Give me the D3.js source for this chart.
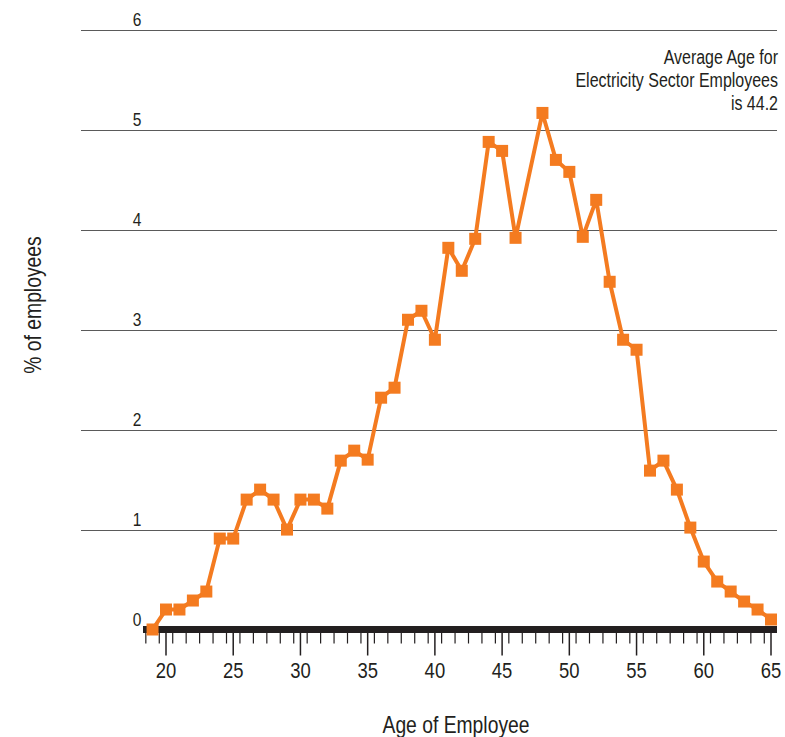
<!DOCTYPE html>
<html lang="en">
<head>
    <meta charset="UTF-8">
    <title>Age of Electricity Sector Employees</title>
    <script src="https://d3js.org/d3.v7.min.js"></script>
    <style>
        body {
            margin: 0;
            background: #fff;
        }
        svg text {
            font-family: "Liberation Sans", Arial, sans-serif;
            fill: #231f20;
        }
        .grid line {
            stroke: #5a5a5a;
            stroke-width: 1.2;
        }
    </style>
</head>
<body>
    <div id="chart"></div>

    <script>
        // ages and share of employees (%); age 47 has no marker
        const ages = [19, 20, 21, 22, 23, 24, 25, 26, 27, 28, 29, 30, 31, 32, 33, 34, 35,
            36, 37, 38, 39, 40, 41, 42, 43, 44, 45, 46, 48, 49, 50,
            51, 52, 53, 54, 55, 56, 57, 58, 59, 60, 61, 62, 63, 64, 65];
        const percents = [0.0, 0.20, 0.20, 0.29, 0.38, 0.91, 0.91, 1.30, 1.40, 1.30, 1.00, 1.30, 1.30, 1.21, 1.69, 1.79, 1.70,
            2.32, 2.42, 3.10, 3.19, 2.90, 3.82, 3.59, 3.91, 4.88, 4.79, 3.92, 5.17, 4.70, 4.58,
            3.93, 4.30, 3.48, 2.90, 2.80, 1.59, 1.69, 1.40, 1.02, 0.68, 0.48, 0.38, 0.28, 0.20, 0.10];
        const yTicks = [0, 1, 2, 3, 4, 5, 6];
        const xTicks = [20, 25, 30, 35, 40, 45, 50, 55, 60, 65];
        const minorTicks = d3.range(18.5, 65, 1);
        const note = ["Average Age for", "Electricity Sector Employees", "is 44.2"];

        const data = ages.map((a, i) => ({ age: a, value: percents[i] }));

        const width = 785, height = 737;
        const sx = 0.84; // no narrow font installed, squeeze the text instead

        const svg = d3.select("#chart")
            .append("svg")
            .attr("width", width)
            .attr("height", height);

        const x = d3.scaleLinear().domain([20, 65]).range([166, 771]);
        const y = d3.scaleLinear().domain([0, 6]).range([629.5, 30]);

        // horizontal gridlines
        const grid = svg.append("g").attr("class", "grid");
        grid.selectAll("line")
            .data(yTicks.filter(d => d > 0))
            .join("line")
            .attr("x1", 81)
            .attr("x2", 777)
            .attr("y1", d => Math.round(y(d)) + 0.5)
            .attr("y2", d => Math.round(y(d)) + 0.5);

        // y labels sit just above their line
        svg.append("g").selectAll("text")
            .data(yTicks)
            .join("text")
            .attr("transform", `scale(${sx},1)`)
            .attr("x", 137 / sx)
            .attr("y", d => y(d) - 3.5)
            .attr("text-anchor", "middle")
            .style("font-size", "18.5px")
            .text(d => d);

        // x axis: minor ticks between ages, long ticks at labels
        const axisY = y(0);
        const xAxis = svg.append("g");
        xAxis.selectAll(".minor")
            .data(minorTicks)
            .join("line")
            .attr("class", "minor")
            .attr("x1", d => x(d))
            .attr("x2", d => x(d))
            .attr("y1", axisY)
            .attr("y2", axisY + 14)
            .attr("stroke", "#231f20")
            .attr("stroke-width", 1.2);

        xAxis.selectAll(".major")
            .data(xTicks)
            .join("line")
            .attr("class", "major")
            .attr("x1", d => x(d))
            .attr("x2", d => x(d))
            .attr("y1", axisY)
            .attr("y2", axisY + 26)
            .attr("stroke", "#231f20")
            .attr("stroke-width", 1.5);

        xAxis.selectAll("text")
            .data(xTicks)
            .join("text")
            .attr("transform", `scale(${sx},1)`)
            .attr("x", d => x(d) / sx)
            .attr("y", axisY + 49)
            .attr("text-anchor", "middle")
            .style("font-size", "22px")
            .text(d => d);

        xAxis.append("line")
            .attr("x1", 143)
            .attr("x2", 777)
            .attr("y1", axisY)
            .attr("y2", axisY)
            .attr("stroke", "#231f20")
            .attr("stroke-width", 7);

        // series
        const line = d3.line()
            .x(d => x(d.age))
            .y(d => y(d.value));

        svg.append("path")
            .datum(data)
            .attr("d", line)
            .attr("fill", "none")
            .attr("stroke", "#f47b20")
            .attr("stroke-width", 4)
            .attr("stroke-linejoin", "round");

        const m = 12;
        svg.append("g").selectAll("rect")
            .data(data)
            .join("rect")
            .attr("x", d => x(d.age) - m / 2)
            .attr("y", d => y(d.value) - m / 2)
            .attr("width", m)
            .attr("height", m)
            .attr("fill", "#f47b20");

        // titles
        svg.append("text")
            .attr("transform", `translate(456,733) scale(${sx},1)`)
            .attr("text-anchor", "middle")
            .style("font-size", "23px")
            .text("Age of Employee");

        svg.append("text")
            .attr("transform", `translate(41,305) rotate(-90) scale(${sx},1)`)
            .attr("text-anchor", "middle")
            .style("font-size", "23px")
            .text("% of employees");

        svg.append("g").selectAll("text")
            .data(note)
            .join("text")
            .attr("transform", "scale(0.82,1)")
            .attr("x", 778 / 0.82)
            .attr("y", (d, i) => 64 + i * 23)
            .attr("text-anchor", "end")
            .style("font-size", "19.5px")
            .text(d => d);
    </script>
</body>
</html>
